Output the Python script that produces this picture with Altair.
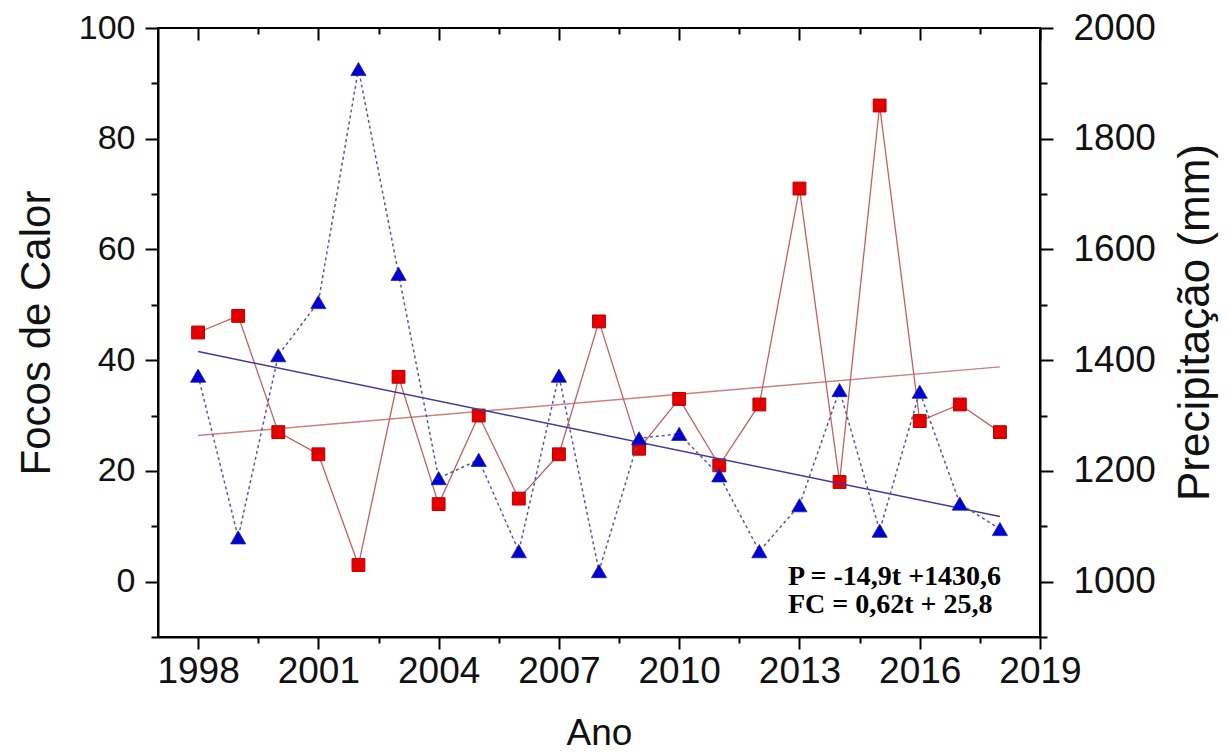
import altair as alt
import pandas as pd

# ---- data ----
years = [1998, 1999, 2000, 2001, 2002, 2003, 2004, 2005, 2006, 2007, 2008,
         2009, 2010, 2011, 2012, 2013, 2014, 2015, 2016, 2017, 2018]
focos = [45, 48, 27, 23, 3, 37, 14, 30, 15, 23, 47,
         24, 33, 21, 32, 71, 18, 86, 29, 32, 27]
precip = [1372, 1080, 1409, 1505, 1926, 1556, 1187, 1220, 1055, 1372, 1019,
          1259, 1267, 1192, 1055, 1138, 1346, 1092, 1343, 1141, 1095]

trend_years = [1998, 2018]
focos_trend = [26.4, 38.8]
precip_trend = [1415.7, 1117.7]

x_ticks = [1998, 1999.5, 2001, 2002.5, 2004, 2005.5, 2007, 2008.5, 2010,
           2011.5, 2013, 2014.5, 2016, 2017.5, 2019]
left_ticks = [-10, 0, 10, 20, 30, 40, 50, 60, 70, 80, 90, 100]
right_ticks = [900, 1000, 1100, 1200, 1300, 1400, 1500, 1600, 1700, 1800, 1900, 2000]

eq_p = "P = -14,9t +1430,6"
eq_fc = "FC = 0,62t + 25,8"

df = pd.DataFrame({"ano": years, "fc": focos, "p": precip})
tdf = pd.DataFrame({"ano": trend_years, "fct": focos_trend, "pt": precip_trend})

W, H = 882, 609
FONT = "Liberation Sans"

xscale = alt.Scale(domain=[1997, 2019], nice=False, zero=False)
xmajor = "(datum.value - 1998) % 3 == 0"

x_main = alt.X(
    "ano:Q", scale=xscale,
    axis=alt.Axis(
        values=x_ticks, format="d", title="Ano",
        labelExpr=f"{xmajor} ? datum.label : ''",
        tickSize={"condition": {"test": xmajor, "value": 12}, "value": 6},
        labelOverlap=False, labelFlush=False, grid=False,
        labelFontSize=37, titleFontSize=37, labelPadding=4, titlePadding=26,
        tickWidth=2, domainWidth=2,
    ),
)
x_top = alt.X(
    "ano:Q", scale=xscale,
    axis=alt.Axis(
        values=x_ticks, labels=False, title=None, domain=False, grid=False,
        orient="bottom", offset=-H,
        tickSize={"condition": {"test": xmajor, "value": 12}, "value": 6},
        tickWidth=2,
    ),
)

lmajor = "datum.value % 20 == 0"
y_left_axis = alt.Axis(
    values=left_ticks, title="Focos de Calor", orient="left",
    labelExpr=f"{lmajor} ? datum.label : ''",
    tickSize={"condition": {"test": lmajor, "value": 13}, "value": 7},
    labelOverlap=False, labelFlush=False, grid=False,
    labelFontSize=34, titleFontSize=42, labelPadding=10, titlePadding=20,
    tickWidth=2, domainWidth=2,
)
y_left_scale = alt.Scale(domain=[-10, 100], nice=False, zero=False)

rmajor = "datum.value % 200 == 0"
y_right_axis = alt.Axis(
    values=right_ticks, title="Precipitação (mm)", orient="right",
    labelExpr=f"{rmajor} ? datum.label : ''", format="d",
    tickSize={"condition": {"test": rmajor, "value": 13}, "value": 7},
    labelOverlap=False, labelFlush=False, grid=False,
    labelFontSize=37, titleFontSize=44, labelPadding=20, titlePadding=18,
    titleAngle=270, titleBaseline="top", titleY=294,
    tickWidth=2, domainWidth=2,
)
y_right_scale = alt.Scale(domain=[900, 2000], nice=False, zero=False)

# ---- Focos de Calor (left axis) ----
red_line = alt.Chart(df).mark_line(color="#c46060", strokeWidth=1.3).encode(
    x=x_main, y=alt.Y("fc:Q", scale=y_left_scale, axis=y_left_axis))
red_trend = alt.Chart(tdf).mark_line(color="#cc8080", strokeWidth=1.4).encode(
    x=x_main, y=alt.Y("fct:Q", scale=y_left_scale, axis=y_left_axis))
red_pts = alt.Chart(df).mark_point(
    shape="square", filled=True, size=165, color="#e50000",
    stroke="#b40000", strokeWidth=1, opacity=1).encode(
    x=x_main, y=alt.Y("fc:Q", scale=y_left_scale, axis=y_left_axis))
red_group = alt.layer(red_trend, red_line, red_pts)

# ---- Precipitação (right axis) ----
blue_line = alt.Chart(df).mark_line(
    color="#5656b0", strokeWidth=1.5, strokeDash=[3, 3]).encode(
    x=x_top, y=alt.Y("p:Q", scale=y_right_scale, axis=y_right_axis))
blue_trend = alt.Chart(tdf).mark_line(color="#3d3d99", strokeWidth=1.5).encode(
    x=x_top, y=alt.Y("pt:Q", scale=y_right_scale, axis=y_right_axis))
blue_pts = alt.Chart(df).mark_point(
    shape="triangle-up", filled=True, size=230, color="#0000d0",
    stroke="#2020a0", strokeWidth=0.8, opacity=1).encode(
    x=x_top, y=alt.Y("p:Q", scale=y_right_scale, axis=y_right_axis))
blue_group = alt.layer(blue_trend, blue_line, blue_pts)

eq_data = alt.Data(values=[{}])
eq1 = alt.Chart(eq_data).mark_text(
    font="Liberation Serif", fontWeight="bold", fontSize=28, align="left",
    baseline="middle", color="black").encode(
    x=alt.value(630), y=alt.value(549), text=alt.value(eq_p))
eq2 = alt.Chart(eq_data).mark_text(
    font="Liberation Serif", fontWeight="bold", fontSize=28, align="left",
    baseline="middle", color="black").encode(
    x=alt.value(630), y=alt.value(577), text=alt.value(eq_fc))

chart = alt.layer(red_group, blue_group, eq1, eq2).resolve_scale(
    y="independent").resolve_axis(x="independent").properties(
    width=W, height=H,
    padding={"left": 158, "top": 28, "right": 187, "bottom": 116},
    autosize=alt.AutoSizeParams(type="none"),
    background="white",
).configure_view(stroke="black", strokeWidth=2).configure_axis(
    labelFont=FONT, titleFont=FONT, labelColor="#111", titleColor="#111",
    tickColor="black", domainColor="black", titleFontWeight="normal",
)

chart.save("out.html", embed_options={"renderer": "svg", "actions": False})
